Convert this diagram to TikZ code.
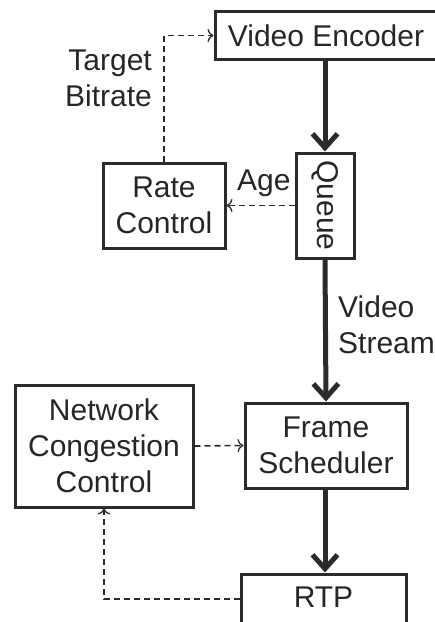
\documentclass[tikz,border=0pt]{standalone}
\usepackage{fontspec}
\setmainfont{Liberation Sans}
\usetikzlibrary{arrows.meta}
\definecolor{ink}{HTML}{2B2B2B}
\definecolor{txt}{HTML}{262626}
\begin{document}
\begin{tikzpicture}[x=1pt,y=-1pt,
  every node/.style={text=txt,font=\fontsize{30}{36}\selectfont},
  blockbox/.style={draw=ink,line width=3pt,inner sep=0pt,align=center},
  flow/.style={draw=ink,line width=5pt,
    -{Straight Barb[length=14pt,width=25pt,line join=miter,line cap=butt]}},
  ctrl/.style={draw=ink,line width=1.6pt,dash pattern=on 6pt off 4pt,
    -{To[length=6pt,width=13pt,line width=1.3pt]}},
  lbl/.style={inner sep=0pt}]
  \useasboundingbox (0,0) rectangle (435,622);

  % blocks
  \node[blockbox,minimum width=222pt,minimum height=48pt] (ve) at (326,35.5) {Video Encoder};
  \node[blockbox,minimum width=58pt,minimum height=105pt] (queue) at (325,205.5)
       {\rotatebox{-90}{Queue}};
  \node[blockbox,minimum width=122pt,minimum height=85pt] (rc) at (164,205.5) {Rate\\Control};
  \node[blockbox,minimum width=162pt,minimum height=85pt] (fs) at (326,445.5) {Frame\\Scheduler};
  \node[blockbox,minimum width=178pt,minimum height=122pt] (ncc) at (104,446)
       {Network\\Congestion\\Control};
  \node[blockbox,minimum width=165pt,minimum height=50pt] (rtp) at (323.5,599) {};
  \node[lbl] (rtptext) at (323.5,597) {RTP};

  % media path
  \draw[flow] (ve.south -| queue) -- (queue.north);
  \draw[flow] (queue.south) -- (fs.north);
  \draw[flow] (fs.south -| queue) -- (rtp.north -| queue);

  % control signals
  \draw[ctrl] (queue.west) -- (rc.east);
  \draw[ctrl] (rc.north) |- (ve.west);
  \draw[ctrl] (ncc.east) -- (fs.west);
  \draw[ctrl] (rtp.west) -| (ncc.south);

  % labels
  \node[lbl,anchor=west] (age) at (237,183) {Age};
  \node[lbl,anchor=east,align=right] (tb) at (152,78) {Target\\Bitrate};
  \node[lbl,anchor=west,align=left] (vs) at (338,325) {Video\\Stream};
\end{tikzpicture}
\end{document}
